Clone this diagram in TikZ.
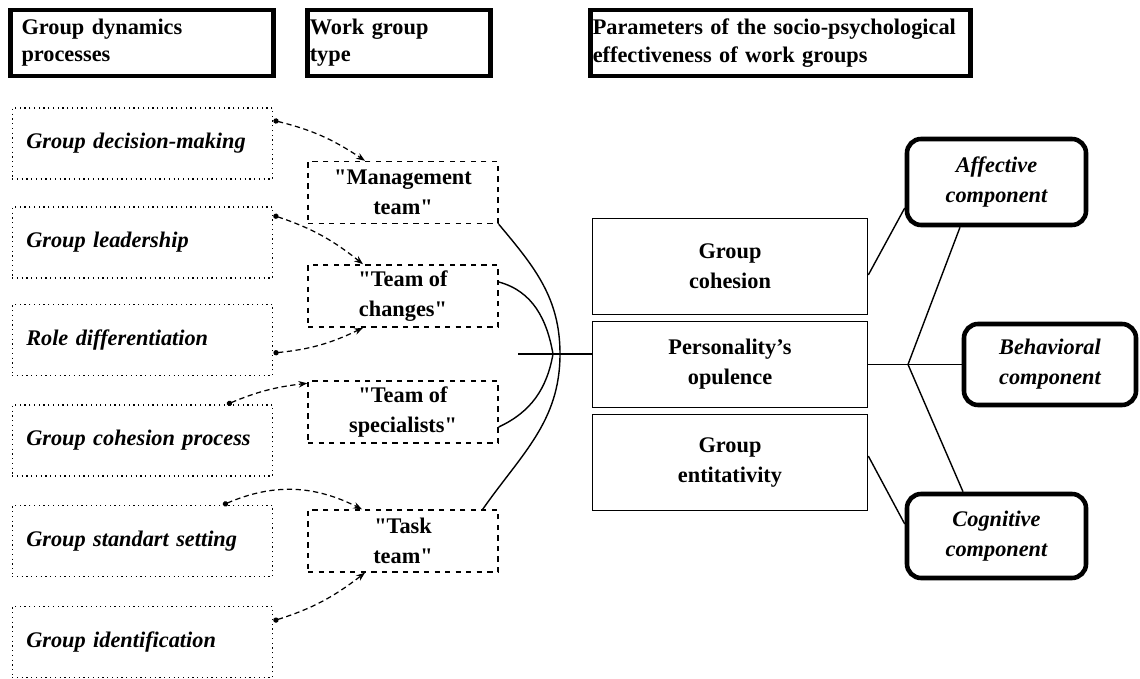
\documentclass[tikz,border=0pt]{standalone}
\usepackage{fontspec}
\setmainfont{Liberation Serif}[Ligatures=TeXOff]
\usepackage{tikz}
\usetikzlibrary{calc,arrows.meta,positioning}

\begin{document}
\begin{tikzpicture}[every node/.style={font=\fontsize{12.7}{17}\selectfont\bfseries},
  headbox/.style={draw, line width=2.8pt, inner xsep=1.5pt, minimum height=1.32cm, align=left, font=\fontsize{12.7}{15.5}\selectfont\bfseries},
  procbox/.style={draw, dotted, line width=0.7pt, text width=4.65cm, inner xsep=8pt, minimum height=1.42cm, align=left, font=\fontsize{12.7}{17}\selectfont\bfseries\itshape},
  typebox/.style={draw, dashed, line width=0.8pt, minimum width=3.8cm, minimum height=1.24cm, align=center},
  parbox/.style={draw, line width=0.9pt, minimum width=5.5cm, align=center},
  compbox/.style={draw, line width=2.6pt, rounded corners=8pt, align=center, font=\fontsize{12.7}{17}\selectfont\bfseries\itshape},
  link/.style={densely dashed, line width=0.7pt, {Circle[length=3pt]}-{Stealth[length=5pt]}},
  tie/.style={line width=0.8pt}]
\useasboundingbox (0,0) rectangle (22.8,-13.58);

\node[headbox, inner xsep=6pt, text width=4.82cm] (hproc) at (2.84,-0.86) {Group dynamics\\processes};
\node[headbox, text width=3.57cm] (htype) at (7.98,-0.86) {Work group\\type};
\node[headbox, text width=7.51cm] (hpar) at (15.61,-0.86) {Parameters of the socio-psychological\\effectiveness of work groups};

\node[procbox] (dec) at (2.85,-2.87) {Group decision-making};
\node[procbox] (lead) at (2.85,-4.85) {Group leadership};
\node[procbox] (role) at (2.85,-6.80) {Role differentiation};
\node[procbox] (cohp) at (2.85,-8.81) {Group cohesion process};
\node[procbox] (std) at (2.85,-10.82) {Group standart setting};
\node[procbox] (ident) at (2.85,-12.84) {Group identification};

\node[typebox] (mgmt) at (8.06,-3.85) {"Management\\team"};
\node[typebox] (chg) at (8.06,-5.92) {"Team of\\changes"};
\node[typebox] (spec) at (8.06,-8.24) {"Team of\\specialists"};
\node[typebox] (task) at (8.06,-10.82) {"Task\\team"};

\node[parbox, minimum height=1.92cm] (coh) at (14.6,-5.33) {Group\\cohesion};
\node[parbox, minimum height=1.72cm] (pers) at (14.6,-7.29) {Personality’s\\opulence};
\node[parbox, minimum height=1.92cm] (ent) at (14.6,-9.25) {Group\\entitativity};

\node[compbox, minimum width=3.58cm, minimum height=1.72cm] (aff) at (19.93,-3.64) {Affective\\component};
\node[compbox, minimum width=3.44cm, minimum height=1.62cm] (beh) at (21.0,-7.29) {Behavioral\\component};
\node[compbox, minimum width=3.58cm, minimum height=1.68cm] (cog) at (19.93,-10.72) {Cognitive\\component};

\draw[link] ([yshift=-0.26cm]dec.north east) to[bend left=10] ([xshift=-0.76cm]mgmt.north);
\draw[link] ([yshift=-0.18cm]lead.north east) to[bend left=10] ([xshift=-0.8cm]chg.north);
\draw[link] ([yshift=-0.26cm]role.east) to[bend right=10] ([xshift=-0.8cm]chg.south);
\draw[link] ([xshift=1.69cm]cohp.north) to[bend left=8] ([yshift=-0.06cm]spec.north west);
\draw[link] ([xshift=1.61cm]std.north) to[bend left=25] ([xshift=-0.82cm]task.north);
\draw[link] ([yshift=-0.3cm]ident.north east) to[bend right=10] ([xshift=-0.76cm]task.south);

\coordinate (hub) at (11.06,-7.08);
\coordinate (outer) at (11.2,-7.08);
\coordinate (stub) at (10.36,-7.08);
\draw[tie] (mgmt.south east) to[out=-50,in=90] (outer) to[out=-90,in=55] ([xshift=-0.32cm]task.north east);
\draw[tie] ([yshift=0.28cm]chg.east) to[out=-15,in=100] (hub) to[out=-100,in=25] ([yshift=-0.3cm]spec.east);
\draw[tie] (stub) -- (stub -| pers.west);

\coordinate (fork) at (18.16,-7.29);
\draw[tie] (pers.east) -- (fork) -- (beh.west);
\draw[tie] (fork) -- ([xshift=-0.73cm]aff.south);
\draw[tie] (fork) -- ([xshift=-0.67cm]cog.north);
\draw[tie] ([yshift=-0.17cm]coh.east) -- ([yshift=-0.52cm]aff.west);
\draw[tie] ([yshift=0.13cm]ent.east) -- ([yshift=0.24cm]cog.west);
\end{tikzpicture}
\end{document}
